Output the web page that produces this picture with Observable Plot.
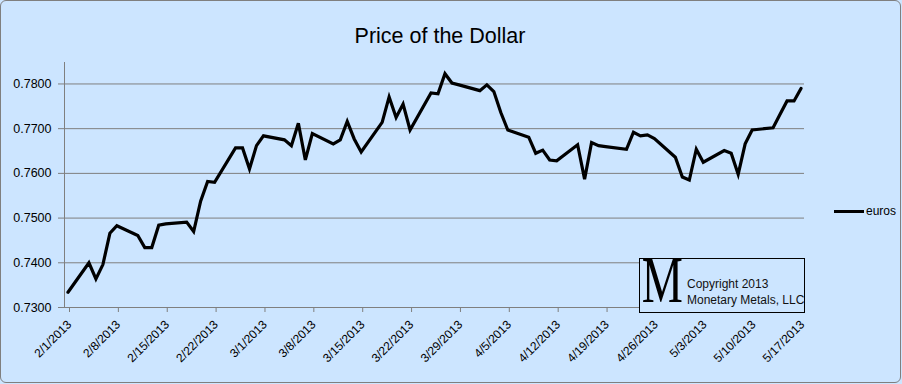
<!DOCTYPE html>
<html>
<head>
<meta charset="utf-8">
<script src="https://cdn.jsdelivr.net/npm/d3@7"></script>
<script src="https://cdn.jsdelivr.net/npm/@observablehq/plot@0.6"></script>
<style>
  html, body { margin: 0; padding: 0; background: #fff; }
  #chart { position: relative; width: 902px; height: 384px; background: #cce5ff; overflow: hidden; font-family: "Liberation Sans", Arial, sans-serif; }
  #border { position: absolute; left: 0; top: 0; width: 899px; height: 381px; border: 1.5px solid #7f7f7f; border-radius: 6px; pointer-events: none; }
  #title { position: absolute; left: 0; width: 880px; top: 24px; text-align: center; font-size: 21.5px; color: #000; }
  #legend { position: absolute; left: 834px; top: 204px; font-size: 12px; display: flex; align-items: center; }
  #legend .sw { width: 30px; height: 3px; background: #000; margin-right: 2px; }
  #logo { position: absolute; left: 639px; top: 258px; width: 164px; height: 53px; border: 1px solid #000; background: #cce5ff; }
  #logo .m { position: absolute; left: -7px; top: -12px; font-family: "Liberation Serif", "DejaVu Serif", serif; font-size: 66px; line-height: 66px; transform: scaleX(0.7); color: #000; }
  #logo .t { position: absolute; left: 47px; font-size: 12px; color: #111; white-space: nowrap; }
</style>
</head>
<body>
<div id="chart">
  <div id="plot"></div>
  <div id="title">Price of the Dollar</div>
  <div id="legend"><div class="sw"></div><span>euros</span></div>
  <div id="logo">
    <div class="m">M</div>
    <div class="t" style="top:18px">Copyright 2013</div>
    <div class="t" style="top:34px">Monetary Metals, LLC</div>
  </div>
  <div id="border"></div>
</div>
<script>
const dates = [
  "2013-02-01","2013-02-04","2013-02-05","2013-02-06","2013-02-07","2013-02-08",
  "2013-02-11","2013-02-12","2013-02-13","2013-02-14","2013-02-15",
  "2013-02-18","2013-02-19","2013-02-20","2013-02-21","2013-02-22",
  "2013-02-25","2013-02-26","2013-02-27","2013-02-28","2013-03-01",
  "2013-03-04","2013-03-05","2013-03-06","2013-03-07","2013-03-08",
  "2013-03-11","2013-03-12","2013-03-13","2013-03-14","2013-03-15",
  "2013-03-18","2013-03-19","2013-03-20","2013-03-21","2013-03-22",
  "2013-03-25","2013-03-26","2013-03-27","2013-03-28","2013-03-29",
  "2013-04-01","2013-04-02","2013-04-03","2013-04-04","2013-04-05",
  "2013-04-08","2013-04-09","2013-04-10","2013-04-11","2013-04-12",
  "2013-04-15","2013-04-16","2013-04-17","2013-04-18","2013-04-19",
  "2013-04-22","2013-04-23","2013-04-24","2013-04-25","2013-04-26",
  "2013-04-29","2013-04-30","2013-05-01","2013-05-02","2013-05-03",
  "2013-05-06","2013-05-07","2013-05-08","2013-05-09","2013-05-10",
  "2013-05-13","2013-05-14","2013-05-15","2013-05-16","2013-05-17"
];
const euros = [
  0.7334,0.7400,0.7364,0.7396,0.7466,0.7483,
  0.7461,0.7434,0.7434,0.7484,0.7487,
  0.7491,0.7470,0.7538,0.7582,0.7580,
  0.7657,0.7657,0.7610,0.7662,0.7684,
  0.7675,0.7662,0.7712,0.7630,0.7689,
  0.7666,0.7675,0.7716,0.7677,0.7648,
  0.7714,0.7771,0.7725,0.7755,0.7697,
  0.7780,0.7778,0.7823,0.7802,0.7798,
  0.7785,0.7798,0.7783,0.7736,0.7697,
  0.7681,0.7645,0.7652,0.7630,0.7628,
  0.7664,0.7587,0.7669,0.7662,0.7660,
  0.7654,0.7692,0.7684,0.7686,0.7678,
  0.7636,0.7592,0.7585,0.7654,0.7625,
  0.7651,0.7645,0.7598,0.7666,0.7697,
  0.7702,0.7732,0.7762,0.7762,0.7790
];
const xTickDates = ["2013-02-01","2013-02-08","2013-02-15","2013-02-22","2013-03-01","2013-03-08",
  "2013-03-15","2013-03-22","2013-03-29","2013-04-05","2013-04-12","2013-04-19",
  "2013-04-26","2013-05-03","2013-05-10","2013-05-17"];
const yTicks = [0.73, 0.74, 0.75, 0.76, 0.77, 0.78];

const parse = d3.utcParse("%Y-%m-%d");
const rows = dates.map((d, i) => ({date: parse(d), value: euros[i]}));
const xTicks = xTickDates.map(parse);
const fmtDate = d3.utcFormat("%-m/%-d/%Y");

const plot = Plot.plot({
  width: 902,
  height: 384,
  marginLeft: 64,
  marginRight: 98,
  marginTop: 62,
  marginBottom: 77,
  style: {background: "transparent", fontFamily: "Liberation Sans, Arial, sans-serif", fontSize: "12px", color: "#000"},
  x: {type: "utc", domain: [parse("2013-02-01"), parse("2013-05-18")]},
  y: {domain: [0.73, 0.7848]},
  marks: [
    Plot.ruleY(yTicks.slice(1), {stroke: "#7f7f7f", strokeWidth: 1, strokeOpacity: 1}),
    Plot.ruleX([parse("2013-02-01")], {stroke: "#7f7f7f", strokeWidth: 1}),
    Plot.ruleY([0.73], {stroke: "#7f7f7f", strokeWidth: 1}),
    Plot.axisY({ticks: yTicks, tickFormat: d3.format(".4f"), tickSize: 6, tickPadding: 7, stroke: "#7f7f7f", fill: "#000", fontSize: 12.5, label: null}),
    Plot.axisX({ticks: xTicks, tickFormat: fmtDate, tickSize: 5, tickRotate: -45, tickPadding: 10, dx: 5, stroke: "#7f7f7f", fill: "#000", fontSize: 12, label: null}),
    Plot.line(rows, {x: d => d3.utcHour.offset(d.date, 12), y: "value", stroke: "#000", strokeWidth: 3.2, strokeLinejoin: "miter", strokeMiterlimit: 4})
  ]
});
document.getElementById("plot").appendChild(plot);
</script>
</body>
</html>
